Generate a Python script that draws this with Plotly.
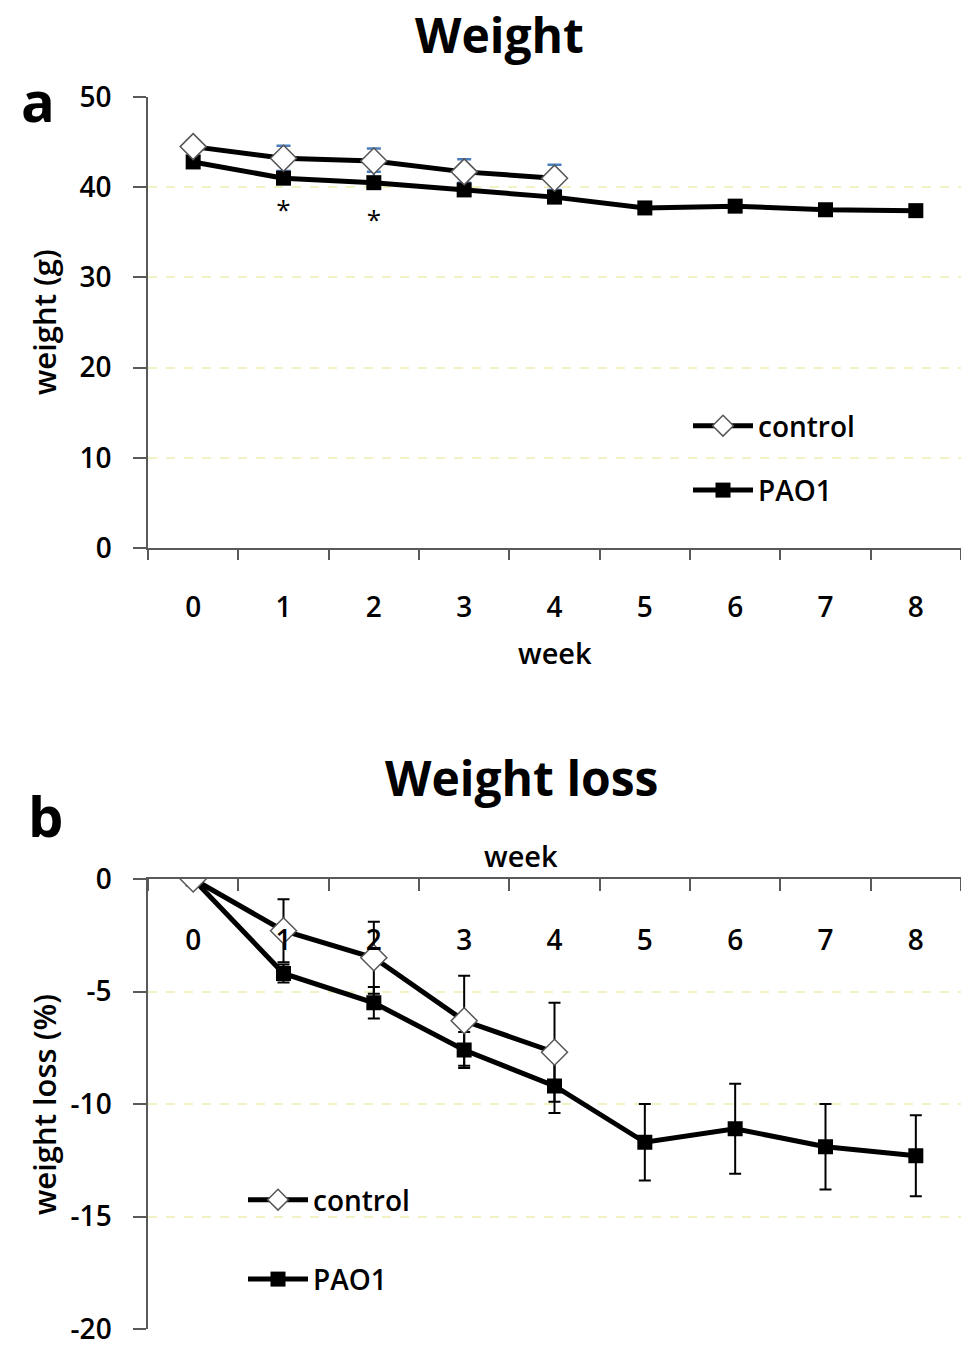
import plotly.graph_objects as go

W, H = 961, 1345
weeks = [0, 1, 2, 3, 4, 5, 6, 7, 8]
week_labels = ["0", "1", "2", "3", "4", "5", "6", "7", "8"]

# Panel a: weight (g)
ctrl_weeks = [0, 1, 2, 3, 4]
ctrl_weight = [44.5, 43.2, 42.9, 41.7, 41.0]
ctrl_weight_err = [0.7, 1.4, 1.4, 1.4, 1.5]
pao1_weight = [42.8, 41.0, 40.5, 39.7, 38.9, 37.7, 37.9, 37.5, 37.4]
pao1_weight_err = [0.6, 0.8, 1.2, 0.8, 0.8, 0.3, 0.5, 0.5, 0.5]
star_weeks = [1, 2]
star_y = [37.2, 36.1]
ya_ticks = [0, 10, 20, 30, 40, 50]

# Panel b: weight loss (%)
ctrl_loss = [0.0, -2.3, -3.5, -6.3, -7.7]
ctrl_loss_err = [0.0, 1.4, 1.6, 2.0, 2.2]
pao1_loss = [0.0, -4.2, -5.5, -7.6, -9.2, -11.7, -11.1, -11.9, -12.3]
pao1_loss_err = [0.0, 0.4, 0.7, 0.8, 1.2, 1.7, 2.0, 1.9, 1.8]
yb_ticks = [-20, -15, -10, -5, 0]
yb_labels = ["-20", "-15", "-10", "-5", "0"]

FONT = "Open Sans"
BLUE = "#4a7ebb"
AXC = "#595959"
GRIDC = "#f2f2c4"

def py(pix):
    return 1 - pix / H

def px(pix):
    return pix / W

fig = go.Figure()

# ---- panel a traces
fig.add_trace(go.Scatter(
    x=weeks, y=pao1_weight, name="PAO1", mode="lines+markers",
    line=dict(color="black", width=5),
    marker=dict(symbol="square", size=15, color="black"),
    error_y=dict(type="data", array=pao1_weight_err, symmetric=False, arrayminus=[0]*9,
                 color=BLUE, thickness=2.5, width=7),
    xaxis="x", yaxis="y", legend="legend", legendgroup="a2", legendrank=2))
fig.add_trace(go.Scatter(
    x=ctrl_weeks, y=ctrl_weight, name="control", mode="lines+markers",
    line=dict(color="black", width=5),
    marker=dict(symbol="diamond", size=20, color="white", line=dict(color="#555555", width=1.5)),
    error_y=dict(type="data", array=ctrl_weight_err, symmetric=False, arrayminus=[0]*5,
                 color=BLUE, thickness=2.5, width=7),
    xaxis="x", yaxis="y", legend="legend", legendgroup="a1", legendrank=1))
fig.add_trace(go.Scatter(
    x=star_weeks, y=star_y, mode="text", text=["*"] * len(star_weeks),
    textfont=dict(family=FONT, size=26, color="black"), showlegend=False,
    xaxis="x", yaxis="y"))

# ---- panel b traces
fig.add_trace(go.Scatter(
    x=weeks, y=pao1_loss, name="PAO1", mode="lines+markers",
    line=dict(color="black", width=5),
    marker=dict(symbol="square", size=15, color="black"),
    error_y=dict(type="data", array=pao1_loss_err, color="black", thickness=2, width=6),
    xaxis="x2", yaxis="y2", legend="legend2", legendgroup="b2", legendrank=2))
fig.add_trace(go.Scatter(
    x=ctrl_weeks, y=ctrl_loss, name="control", mode="lines+markers",
    line=dict(color="black", width=5),
    marker=dict(symbol="diamond", size=20, color="white", line=dict(color="#555555", width=1.5)),
    error_y=dict(type="data", array=ctrl_loss_err, color="black", thickness=2, width=6),
    xaxis="x2", yaxis="y2", legend="legend2", legendgroup="b1", legendrank=1))
# invisible trace carrying the label-only axis of panel b
fig.add_trace(go.Scatter(x=weeks, y=pao1_loss, mode="none", showlegend=False,
                         hoverinfo="skip", xaxis="x3", yaxis="y2"))

tickfont = dict(family=FONT, size=28, color="black", weight=600)

minor_out = dict(tickmode="linear", tick0=-0.5, dtick=1, ticks="outside", ticklen=10,
                 tickwidth=1.5, tickcolor=AXC, showgrid=False)
minor_in = dict(tickmode="linear", tick0=-0.5, dtick=1, ticks="inside", ticklen=12,
                tickwidth=1.5, tickcolor=AXC, showgrid=False)

def xax(**kw):
    d = dict(range=[-0.5, 8.5], tickmode="array", tickvals=weeks, ticktext=week_labels,
             ticks="", showgrid=False, zeroline=False, showline=True, linecolor=AXC,
             linewidth=1.5, tickfont=tickfont, automargin=False, ticklabeloverflow="allow")
    d.update(kw)
    return d

def yax(**kw):
    d = dict(ticks="outside", ticklen=13, tickwidth=1.5, tickcolor=AXC,
             showline=True, linecolor=AXC, linewidth=1.5, zeroline=False,
             showgrid=True, gridcolor=GRIDC, griddash="dash", gridwidth=1.5,
             tickfont=tickfont, ticklabelstandoff=16, automargin=False,
             ticklabeloverflow="allow")
    d.update(kw)
    return d

fig.update_layout(
    width=W, height=H, margin=dict(l=0, r=0, t=0, b=0, autoexpand=False),
    template="none",
    paper_bgcolor="white", plot_bgcolor="white",
    font=dict(family=FONT, color="black"),
    xaxis=xax(domain=[px(148), 1.0], anchor="y", ticklabelstandoff=34, minor=minor_out),
    yaxis=yax(domain=[py(548), py(97)], anchor="x", range=[0, 50], tickvals=ya_ticks),
    xaxis2=xax(domain=[px(148), 1.0], anchor="y2", side="top", showticklabels=False,
               minor=minor_in),
    xaxis3=xax(domain=[px(148), 1.0], overlaying="x2", anchor="free", position=py(921),
               side="bottom", showline=False, ticklabelstandoff=0),
    yaxis2=yax(domain=[py(1329), py(879)], anchor="x2", range=[-20, 0],
               tickvals=yb_ticks, ticktext=yb_labels),
    legend=dict(x=px(688), y=py(401), xanchor="left", yanchor="top",
                font=dict(family=FONT, size=28, color="black", weight=600),
                bgcolor="rgba(0,0,0,0)", tracegroupgap=25, itemwidth=60),
    legend2=dict(x=px(243), y=py(1175), xanchor="left", yanchor="top",
                 font=dict(family=FONT, size=28, color="black", weight=600),
                 bgcolor="rgba(0,0,0,0)", tracegroupgap=40, itemwidth=60),
    showlegend=True,
)

ann = []
def add_text(text, x, y, size, weight="bold", angle=0):
    ann.append(dict(text=text, x=px(x), y=py(y), xref="paper", yref="paper",
                    xanchor="center", yanchor="middle", showarrow=False, textangle=angle,
                    font=dict(family=FONT, size=size, color="black", weight=weight)))

add_text("Weight", 499, 35, 48)
add_text("Weight loss", 521, 777, 48)
add_text("a", 38, 100, 56)
add_text("b", 45, 815, 56)
add_text("week", 555, 652, 29, weight=600)
add_text("week", 521, 855, 29, weight=600)
add_text("weight (g)", 44, 322, 31, weight=600, angle=-90)
add_text("weight loss (%)", 44, 1105, 31, weight=600, angle=-90)
fig.update_layout(annotations=ann)

fig.write_html("out.html", config={"displayModeBar": False},
               post_script="document.body.style.margin='0';document.body.style.padding='0';")
